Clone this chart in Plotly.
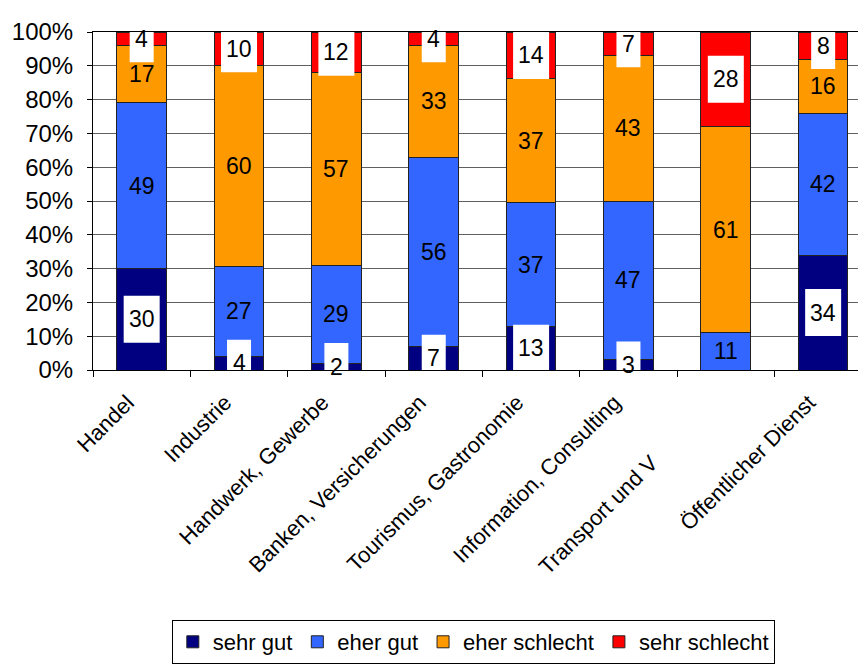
import plotly.graph_objects as go

categories = ["Handel", "Industrie", "Handwerk, Gewerbe", "Banken, Versicherungen",
              "Tourismus, Gastronomie", "Information, Consulting",
              "Transport und V" + "\u00a0" * 14, "Öffentlicher Dienst"]
series_names = ["sehr gut", "eher gut", "eher schlecht", "sehr schlecht"]
sehr_gut = [30, 4, 2, 7, 13, 3, 0, 34]
eher_gut = [49, 27, 29, 56, 37, 47, 11, 42]
eher_schlecht = [17, 60, 57, 33, 37, 43, 61, 16]
sehr_schlecht = [4, 10, 12, 4, 14, 7, 28, 8]
colors = ["#000080", "#3366FF", "#FF9900", "#FF0000"]
boxed = [True, False, False, True]

series = [sehr_gut, eher_gut, eher_schlecht, sehr_schlecht]
FONT = "Liberation Sans, Arial, sans-serif"

fig = go.Figure()
for name, vals, col in zip(series_names, series, colors):
    fig.add_trace(go.Bar(x=categories, y=vals, name=name, marker_color=col,
                         marker_line_color="#222222", marker_line_width=1))

shapes = []
annotations = []
for i, cat in enumerate(categories):
    total = sum(s[i] for s in series)
    cum = 0.0
    for k, s in enumerate(series):
        v = s[i]
        pct = v / total * 100
        mid = cum + pct / 2
        cum += pct
        if v == 0:
            continue
        if boxed[k]:
            w = 12 + 12 * len(str(v))
            shapes.append(dict(type="rect", xref="x", yref="y", layer="above",
                               xsizemode="pixel", ysizemode="pixel",
                               xanchor=cat, yanchor=mid,
                               x0=-w / 2, x1=w / 2, y0=-23.5, y1=23.5,
                               fillcolor="white", line_width=0))
        annotations.append(dict(x=cat, y=mid, xref="x", yref="y", text=str(v),
                                showarrow=False, font=dict(size=23, color="black", family=FONT)))

fig.update_layout(
    width=858, height=656,
    margin=dict(l=85, r=0, t=24, b=292),
    barmode="stack", barnorm="percent", bargap=0.49,
    plot_bgcolor="white", paper_bgcolor="white",
    font=dict(family=FONT, size=22, color="black"),
    shapes=shapes, annotations=annotations,
    showlegend=True,
    legend=dict(orientation="h", x=0.492, xanchor="center", y=-0.741, yanchor="top",
                bordercolor="black", borderwidth=1, font=dict(size=22, family=FONT),
                traceorder="normal", itemwidth=30, tracegroupgap=0),
)
fig.update_xaxes(type="category", range=[-0.5, 7.44], showgrid=False,
                 showline=True, linecolor="black", linewidth=1, mirror=True,
                 ticks="outside", tickson="boundaries", ticklen=6, tickcolor="black",
                 tickangle=-45, tickfont=dict(size=22, family=FONT), automargin=False,
                 ticklabelstandoff=10, ticklabelshift=-14)
fig.update_yaxes(range=[0, 100], dtick=10, ticksuffix="%", showgrid=True,
                 gridcolor="#606060", gridwidth=1, showline=True, linecolor="black",
                 ticks="outside", ticklen=5, tickcolor="black",
                 tickfont=dict(size=24, family=FONT), automargin=False, zeroline=False,
                 ticklabelstandoff=9)

fig.write_html("out.html")
